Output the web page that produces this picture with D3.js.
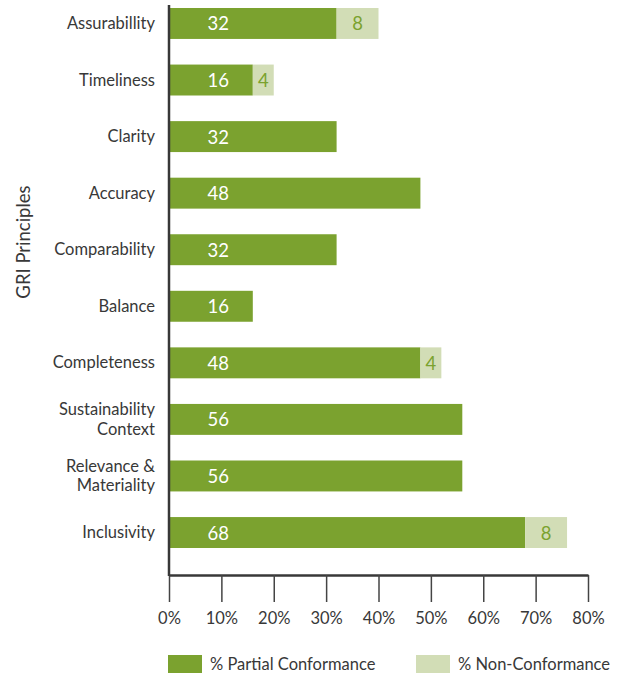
<!DOCTYPE html>
<html>
<head>
<meta charset="utf-8">
<script src="https://cdn.jsdelivr.net/npm/d3@7"></script>
<style>
  html, body { margin: 0; padding: 0; background: #fff; }
  svg { display: block; font-family: Lato, "Open Sans", sans-serif; }
</style>
</head>
<body>
<svg id="chart" width="621" height="677"></svg>
<script>
// GRI principle categories (top to bottom), label lines split for wrapping
const principles = [
  ["Assurabillity"],
  ["Timeliness"],
  ["Clarity"],
  ["Accuracy"],
  ["Comparability"],
  ["Balance"],
  ["Completeness"],
  ["Sustainability", "Context"],
  ["Relevance &", "Materiality"],
  ["Inclusivity"]
];
const partialConformance = [32, 16, 32, 48, 32, 16, 48, 56, 56, 68];
const nonConformance     = [8, 4, 0, 0, 0, 0, 4, 0, 0, 8];
const xTicks = [0, 10, 20, 30, 40, 50, 60, 70, 80];
const seriesNames = ["% Partial Conformance", "% Non-Conformance"];

const GREEN = "#7ba22f";
const LIGHT = "#d2ddb6";
const INK = "#383838";

const svg = d3.select("#chart");

const x = d3.scaleLinear().domain([0, 80]).range([169, 588]);
const y = d3.scaleBand()
  .domain(d3.range(principles.length))
  .range([8, 548])
  .paddingInner(0.453)
  .paddingOuter(0);

const rows = principles.map((p, i) => ({
  lines: p, i, partial: partialConformance[i], non: nonConformance[i]
}));

// Partial conformance bars
svg.append("g").selectAll("rect")
  .data(rows).join("rect")
  .attr("x", x(0))
  .attr("y", d => y(d.i))
  .attr("width", d => x(d.partial) - x(0))
  .attr("height", y.bandwidth())
  .attr("fill", GREEN);

// Non-conformance bars stacked on the right
svg.append("g").selectAll("rect")
  .data(rows.filter(d => d.non > 0)).join("rect")
  .attr("x", d => x(d.partial))
  .attr("y", d => y(d.i))
  .attr("width", d => x(d.partial + d.non) - x(d.partial))
  .attr("height", y.bandwidth())
  .attr("fill", LIGHT);

// Value labels
svg.append("g").selectAll("text")
  .data(rows).join("text")
  .attr("x", x(9.4))
  .attr("y", d => y(d.i) + y.bandwidth() / 2)
  .attr("dy", "0.38em")
  .attr("text-anchor", "middle")
  .attr("fill", "#ffffff")
  .attr("font-size", 18.5)
  .text(d => d.partial);

svg.append("g").selectAll("text")
  .data(rows.filter(d => d.non > 0)).join("text")
  .attr("x", d => x(d.partial + d.non / 2))
  .attr("y", d => y(d.i) + y.bandwidth() / 2)
  .attr("dy", "0.38em")
  .attr("text-anchor", "middle")
  .attr("fill", GREEN)
  .attr("font-size", 18.5)
  .text(d => d.non);

// Category labels, one text element per line
const catLines = rows.flatMap(d => d.lines.map((line, k) => ({
  line,
  cy: y(d.i) + y.bandwidth() / 2 + (k - (d.lines.length - 1) / 2) * 19.5
})));
svg.append("g").selectAll("text")
  .data(catLines).join("text")
  .attr("x", 155)
  .attr("y", d => d.cy)
  .attr("dy", "0.34em")
  .attr("text-anchor", "end")
  .attr("fill", INK)
  .attr("font-size", 16.5)
  .text(d => d.line);

// X axis
const xAxis = svg.append("g")
  .attr("transform", "translate(0,575)")
  .call(d3.axisBottom(x).tickValues(xTicks).tickFormat(d => d + "%")
    .tickSize(27).tickPadding(10).tickSizeOuter(0));
xAxis.select(".domain").attr("stroke", INK).attr("stroke-width", 2.5);
xAxis.selectAll(".tick line").attr("stroke", "#444").attr("stroke-width", 1.5);
xAxis.selectAll(".tick text")
  .attr("fill", INK)
  .attr("font-size", 16.5)
  .attr("font-family", "Lato, 'Open Sans', sans-serif");

// Y axis line
svg.append("line")
  .attr("x1", 169).attr("x2", 169)
  .attr("y1", 5).attr("y2", 576)
  .attr("stroke", INK)
  .attr("stroke-width", 2.5);

// Y axis title
svg.append("text")
  .attr("transform", "translate(30,242) rotate(-90)")
  .attr("text-anchor", "middle")
  .attr("fill", INK)
  .attr("font-size", 18.5)
  .text("GRI Principles");

// Legend
const legend = svg.append("g");
const legendItems = [
  { name: seriesNames[0], color: GREEN, x: 168 },
  { name: seriesNames[1], color: LIGHT, x: 416 }
];
legend.selectAll("rect")
  .data(legendItems).join("rect")
  .attr("x", d => d.x).attr("y", 655)
  .attr("width", 34).attr("height", 18)
  .attr("fill", d => d.color);
legend.selectAll("text")
  .data(legendItems).join("text")
  .attr("x", d => d.x + 42).attr("y", 664)
  .attr("dy", "0.36em")
  .attr("fill", INK)
  .attr("font-size", 16.5)
  .text(d => d.name);
</script>
</body>
</html>
